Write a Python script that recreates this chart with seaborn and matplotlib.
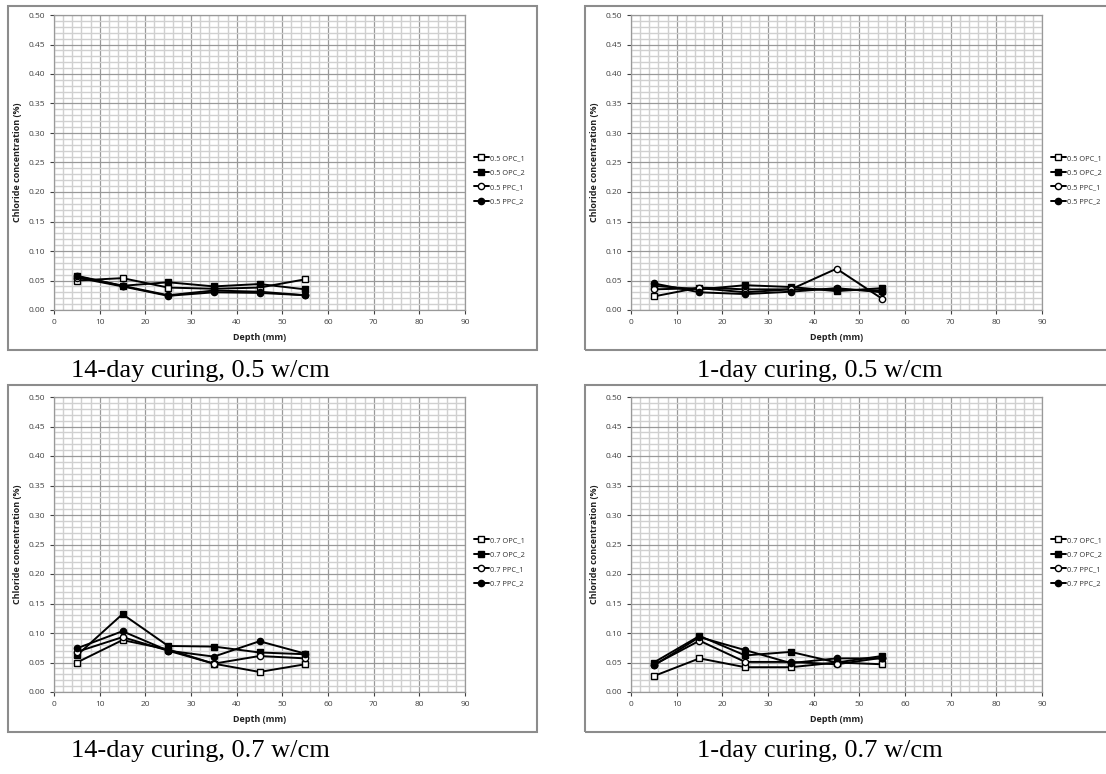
import numpy as np
import pandas as pd
import matplotlib
matplotlib.use("Agg")
import matplotlib.pyplot as plt
from matplotlib.ticker import MultipleLocator, FormatStrFormatter
from matplotlib.patches import Rectangle
import seaborn as sns

depth = [5, 15, 25, 35, 45, 55]

# 14-day curing, 0.5 w/cm
d14_05_opc1 = [0.050, 0.054, 0.038, 0.036, 0.038, 0.052]
d14_05_opc2 = [0.058, 0.041, 0.047, 0.040, 0.044, 0.035]
d14_05_ppc1 = [0.055, 0.040, 0.024, 0.030, 0.029, 0.025]
d14_05_ppc2 = [0.057, 0.041, 0.025, 0.033, 0.031, 0.025]

# 1-day curing, 0.5 w/cm
d1_05_opc1 = [0.023, 0.038, 0.035, 0.035, 0.035, 0.033]
d1_05_opc2 = [0.041, 0.035, 0.042, 0.039, 0.032, 0.037]
d1_05_ppc1 = [0.035, 0.037, 0.030, 0.035, 0.070, 0.019]
d1_05_ppc2 = [0.045, 0.030, 0.027, 0.031, 0.037, 0.030]

# 14-day curing, 0.7 w/cm
d14_07_opc1 = [0.050, 0.088, 0.072, 0.048, 0.034, 0.047]
d14_07_opc2 = [0.062, 0.132, 0.078, 0.077, 0.067, 0.064]
d14_07_ppc1 = [0.068, 0.093, 0.070, 0.048, 0.061, 0.057]
d14_07_ppc2 = [0.074, 0.103, 0.070, 0.060, 0.086, 0.065]

# 1-day curing, 0.7 w/cm
d1_07_opc1 = [0.027, 0.057, 0.042, 0.042, 0.050, 0.047]
d1_07_opc2 = [0.050, 0.095, 0.062, 0.068, 0.050, 0.061]
d1_07_ppc1 = [0.046, 0.087, 0.051, 0.051, 0.047, 0.058]
d1_07_ppc2 = [0.045, 0.093, 0.071, 0.049, 0.057, 0.057]

names_05 = ["0.5 OPC_1", "0.5 OPC_2", "0.5 PPC_1", "0.5 PPC_2"]
names_07 = ["0.7 OPC_1", "0.7 OPC_2", "0.7 PPC_1", "0.7 PPC_2"]
captions = ["14-day curing, 0.5 w/cm", "1-day curing, 0.5 w/cm",
            "14-day curing, 0.7 w/cm", "1-day curing, 0.7 w/cm"]

panels = [
    (names_05, [d14_05_opc1, d14_05_opc2, d14_05_ppc1, d14_05_ppc2]),
    (names_05, [d1_05_opc1, d1_05_opc2, d1_05_ppc1, d1_05_ppc2]),
    (names_07, [d14_07_opc1, d14_07_opc2, d14_07_ppc1, d14_07_ppc2]),
    (names_07, [d1_07_opc1, d1_07_opc2, d1_07_ppc1, d1_07_ppc2]),
]

styles = [("s", "white"), ("s", "black"), ("o", "white"), ("o", "black")]

sns.set_theme(style="white")
plt.rcParams["font.family"] = ["Open Sans", "DejaVu Sans"]

W, H = 1106, 774
fig = plt.figure(figsize=(W / 100, H / 100), dpi=100)

def fx(x):
    return x / W

def fy(y):
    return 1 - y / H

# pixel layout: (plot left, plot top, plot right, plot bottom), frame, caption
layouts = [
    dict(plot=(54, 15, 465, 310), frame=(8, 6, 537, 350), cap=(200, 371)),
    dict(plot=(631, 15, 1042, 310), frame=(585, 6, 1112, 350), cap=(820, 371)),
    dict(plot=(54, 397, 465, 692), frame=(8, 385, 537, 732), cap=(200, 751)),
    dict(plot=(631, 397, 1042, 692), frame=(585, 385, 1112, 732), cap=(820, 751)),
]

tick_color = "#404040"
for (names, series), lay, cap in zip(panels, layouts, captions):
    fl, ft, fr, fb = lay["frame"]
    fig.add_artist(Rectangle((fx(fl), fy(fb)), fx(fr - fl), (fb - ft) / H,
                             transform=fig.transFigure, fill=False,
                             edgecolor="#8c8c8c", linewidth=1.5, zorder=0))
    l, t, r, b = lay["plot"]
    ax = fig.add_axes([fx(l), fy(b), fx(r - l), (b - t) / H])
    df = pd.DataFrame({
        "Depth": depth * len(names),
        "Cl": [v for s in series for v in s],
        "Series": [n for n in names for _ in depth],
    })
    for name, (mk, fc) in zip(names, styles):
        sub = df[df["Series"] == name]
        sns.lineplot(data=sub, x="Depth", y="Cl", ax=ax, color="black",
                     marker=mk, markerfacecolor=fc, markeredgecolor="black",
                     markersize=4.5, markeredgewidth=1.0, linewidth=1.4,
                     label=name, zorder=3)
    ax.set_xlim(0, 90)
    ax.set_ylim(0, 0.5)
    ax.xaxis.set_major_locator(MultipleLocator(10))
    ax.xaxis.set_minor_locator(MultipleLocator(2))
    ax.yaxis.set_major_locator(MultipleLocator(0.05))
    ax.yaxis.set_minor_locator(MultipleLocator(0.01))
    ax.yaxis.set_major_formatter(FormatStrFormatter("%.2f"))
    ax.grid(which="minor", color="#d0d0d0", linewidth=1.0)
    ax.grid(which="major", color="#999999", linewidth=0.9)
    ax.set_axisbelow(True)
    for sp in ax.spines.values():
        sp.set_color("#999999")
        sp.set_linewidth(0.9)
    ax.tick_params(axis="both", which="major", labelsize=6, colors=tick_color,
                   length=3, width=0.8, direction="out", bottom=True, left=True)
    ax.tick_params(axis="both", which="minor", length=0)
    ax.set_xlabel("Depth (mm)", fontsize=6.5, fontweight="bold", color="#202020", labelpad=5)
    ax.set_ylabel("Chloride concentration (%)", fontsize=6.5, fontweight="bold",
                  color="#202020", labelpad=5)
    leg = ax.legend(loc="center left", bbox_to_anchor=(1.015, 0.44), frameon=False,
                    fontsize=5.3, handlelength=2.0, handletextpad=0.15,
                    labelspacing=1.0, borderaxespad=0)
    for txt in leg.get_texts():
        txt.set_color("#303030")
    cx, cy = lay["cap"]
    fig.text(fx(cx), fy(cy), cap, ha="center", va="center", fontsize=19,
             family="Liberation Serif", color="black")

fig.savefig("out.png", dpi=100, facecolor="white")
